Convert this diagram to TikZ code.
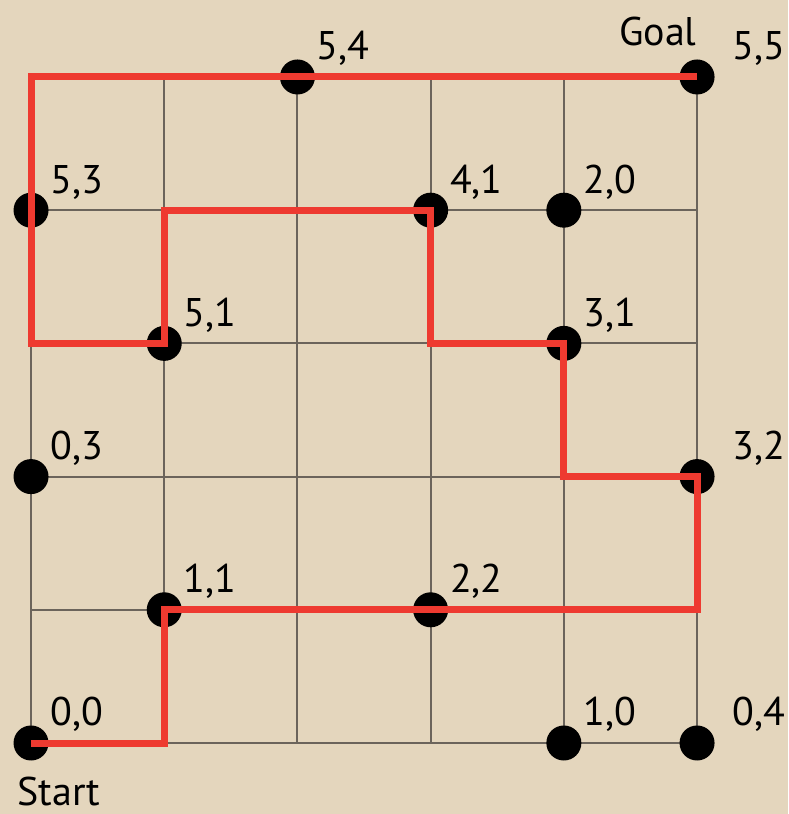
\documentclass[tikz,border=0pt]{standalone}
\usepackage{fontspec}
\setmainfont{PT Sans}
\usetikzlibrary{positioning}
\definecolor{Parchment}{HTML}{E4D6BD}
\definecolor{GridGray}{HTML}{6B645B}
\definecolor{PathRed}{HTML}{EE3A30}
\tikzset{
  gridline/.style={draw=GridGray, line width=1pt},
  dot/.style={circle, fill=black, inner sep=0pt, minimum size=17.5pt},
  coord/.style={font=\fontsize{20}{24}\selectfont, inner sep=0pt, anchor=base west},
  route/.style={draw=PathRed, line width=3.5pt, line join=miter}
}

\begin{document}
\begin{tikzpicture}[x=66.6pt, y=66.6pt]
\fill[Parchment] (-0.233,-0.533) rectangle (5.683,5.578);
\useasboundingbox (-0.233,-0.533) rectangle (5.683,5.578);
\draw[gridline, step=66.6pt] (0,0) grid (5,5);
\foreach \i in {0,...,5} \foreach \j in {0,...,5} \coordinate (g\i\j) at (\i,\j);
\foreach \i/\j/\lbl/\dx in {2/5/{5,4}/0.143, 5/5/{5,5}/0.263, 0/4/{5,3}/0.143, 3/4/{4,1}/0.143, 4/4/{2,0}/0.143, 1/3/{5,1}/0.143, 4/3/{3,1}/0.143, 0/2/{0,3}/0.143, 5/2/{3,2}/0.263, 1/1/{1,1}/0.143, 3/1/{2,2}/0.143, 0/0/{0,0}/0.143, 4/0/{1,0}/0.143, 5/0/{0,4}/0.263} {
  \node[dot] (d\i\j) at (g\i\j) {};
  \node[coord] (t\i\j) at ([shift={(\dx,0.128)}]d\i\j.center) {\lbl};
}
\node[coord, anchor=base east] (goal) at ([shift={(0,0.24)}]d55.center) {Goal};
\node[coord] (start) at ([shift={(-0.105,-0.47)}]d00.center) {Start};
\draw[route] (g00) -- (g10) -- (g11) -- (g51) -- (g52) -- (g42) -- (g43) -- (g33) -- (g34) -- (g14) -- (g13) -- (g03) -- (g05) -- (g55);
\end{tikzpicture}
\end{document}
